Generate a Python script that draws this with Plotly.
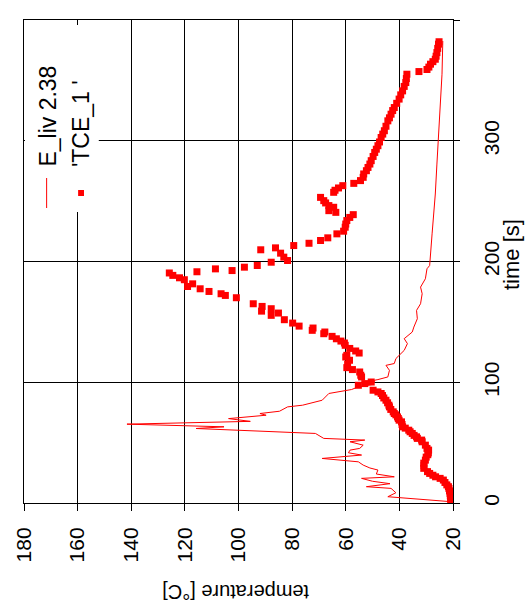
import plotly.graph_objects as go

# E_liv 2.38 : computed temperature history (thin line)
eliv_time = [0, 1, 5.2, 8.5, 12.1, 13.5, 16, 18, 20.4, 21.7, 24, 27.3, 29, 31.4, 34.1,
             36.9, 39.7, 41.6, 43.8, 45.2, 47.9, 50.7, 52.1, 53.5, 57.6, 61.7, 63.1,
             65.3, 67.6, 69.9, 72.7, 74.1, 76.0, 79.6, 81.0, 85.1, 90.7, 94.0, 95.6,
             98.3, 101.7, 102.2, 104.4, 109.9, 114.0, 115.5, 119.6, 126.4, 132.0,
             136.1, 141.6, 145.7, 152.6, 159.5, 165.0, 173.3, 178.8, 185.7, 194.0,
             196.7, 222.9, 255.9, 280.7, 302.7, 330.3, 355.1, 382.6]
eliv_temp = [20, 20.3, 44.3, 41.3, 43.1, 52.3, 43.5, 50.0, 54.1, 41.9, 48.6, 48.0, 51.0,
             53.5, 55.3, 68.8, 54.1, 59.0, 58.4, 54.8, 53.5, 58.4, 52.9, 68.2, 71.3,
             115.8, 105.4, 141.6, 95.6, 103.7, 89.7, 92.0, 84.7, 81.7, 76.1, 68.8,
             66.3, 57.8, 56.0, 49.8, 49.2, 48.0, 44.3, 43.7, 45.0, 41.9, 41.3, 38.2,
             37.0, 38.2, 35.2, 34.6, 33.3, 33.6, 32.1, 31.5, 32.1, 30.3, 29.7, 28.7,
             27.8, 26.6, 26.0, 25.4, 24.8, 24.1, 23.8]

# 'TCE_1 ' : measured thermocouple readings (square points)
tce_time = [0, 2, 4, 6, 8, 10, 12, 13.5, 15, 17, 19, 20.4, 21.7, 23, 24.5, 26, 28.7, 31,
            33, 35.5, 38, 40, 41.5, 43.8, 45.2, 47.9, 50.7, 52.1, 53.5, 54.8, 56, 57.6,
            59, 60.3, 62, 63.1, 65, 67.2, 68.6, 70, 71.3, 73, 74.1, 75.5, 77.5, 79.6,
            81, 83, 85.1, 87, 89, 90.7, 92, 93.4, 97.5, 98.9, 100.2, 104.4, 105.8,
            108.5, 110.5, 112.1, 115, 118.2, 120.9, 122.3, 124.2, 125.9, 128, 130.6,
            132.5, 134.1, 136, 138, 140.2, 141.6, 143, 144.9, 146.5, 149, 151.8, 155.4,
            157.3, 158.9, 160.9, 162.8, 165, 170, 171.9, 173.3, 175.2, 177.4, 179.3,
            181.5, 184.9, 186.5, 188.5, 190.5, 191.5, 192.5, 193.9, 195.3, 196.7,
            199.4, 200.8, 203.6, 206.9, 209.7, 211.3, 213.2, 215.1, 217.4, 219.6,
            222.9, 225.1, 228.4, 231, 233.9, 236.5, 238.8, 240.7, 242.1, 244.9, 246.3,
            248.5, 250.4, 253.1, 257.3, 259, 260.9, 262.8, 264.7, 267, 269.7, 272.5,
            275.2, 277.9, 280.7, 283.5, 287, 290.3, 293, 295.9, 299, 302.7, 305.5,
            308.3, 312, 316.5, 319, 322, 325, 327.5, 331, 334.5, 338, 341.3, 345,
            348.2, 351.5, 355.1, 357.3, 359, 361, 363.4, 365.5, 367.5, 370, 373,
            376.5, 380, 382]
tce_temp = [20.8, 20.8, 20.9, 21.0, 21.1, 21.3, 21.5, 21.7, 22.3, 23.0, 23.6, 24.8, 26.5,
            27.5, 28.7, 29.5, 30.9, 30.8, 30.9, 30.3, 30.0, 29.4, 29.2, 29.1, 29.7,
            30.3, 31.5, 31.7, 33.3, 33.6, 34.5, 35.2, 36.0, 36.5, 37.8, 38.8, 39.0,
            39.2, 40.1, 40.4, 40.7, 41.3, 41.9, 42.3, 43.2, 43.7, 43.9, 44.4, 45.0,
            45.8, 46.3, 46.8, 48.0, 49.8, 55.3, 52.9, 50.5, 54.1, 54.4, 54.8, 57.5,
            59.6, 59.3, 58.6, 60.0, 59.6, 55.0, 56.3, 58.5, 60.2, 60.5, 61.8, 63.5,
            65.1, 68.2, 67.8, 72.5, 72.2, 77.4, 79.8, 82.9, 87.8, 85.1, 91.4, 87.8,
            91.2, 94.5, 100.8, 104.9, 106.5, 111.0, 114.3, 119.0, 117.1, 120.2, 122.0,
            124.5, 125.8, 115.5, 102.4, 108.6, 97.8, 93.0, 87.8, 81.7, 83.1, 84.3,
            91.7, 86.2, 79.4, 73.7, 69.4, 66.7, 63.3, 60.8, 60.2, 60.0, 59.6, 58.5,
            57.2, 63.7, 66.3, 64.5, 66.3, 67.5, 68.2, 69.4, 64.5, 64.0, 62.7, 61.1,
            57.0, 54.5, 53.5, 53.3, 52.3, 51.7, 51.0, 50.5, 49.8, 49.2, 48.6, 48.0,
            47.4, 46.8, 46.2, 45.6, 45.0, 44.3, 43.7, 43.1, 42.5, 41.9, 41.0, 40.1,
            39.5, 38.8, 38.2, 37.6, 37.4, 37.2, 32.7, 29.7, 29.0, 28.4, 27.5, 26.6,
            26.3, 26.0, 25.7, 25.4, 25.2]

temp_ticks = [20, 40, 60, 80, 100, 120, 140, 160, 180]
time_ticks = [0, 100, 200, 300, 400]

FONT = "Liberation Sans"
RED = "#ff0000"

W, H = 526, 614
L, R, T, B = 17, 453, 20, 503   # plot-area edges in pixels


def px(x, y):
    """pixel position -> paper coordinates"""
    return (x - L) / (R - L), (B - y) / (B - T)


fig = go.Figure()

# the chart is drawn turned on its side: time runs up the right-hand axis,
# temperature decreases from left to right along the bottom axis
fig.add_trace(go.Scatter(
    x=eliv_temp, y=eliv_time, mode="lines", name="E_liv 2.38",
    line=dict(color=RED, width=1), hoverinfo="skip"))
fig.add_trace(go.Scatter(
    x=tce_temp, y=tce_time, mode="markers", name="'TCE_1 '",
    marker=dict(symbol="square", size=7, color=RED, line=dict(width=0)),
    hoverinfo="skip"))

axis_common = dict(
    showgrid=True, gridcolor="#000000", gridwidth=1,
    showline=True, linecolor="#000000", linewidth=1, mirror=True,
    zeroline=False, ticks="outside", tickcolor="#000000",
    tickangle=-90, tickfont=dict(family=FONT, size=21, color="#000000"),
)

fig.update_xaxes(range=[180, 20], tickvals=temp_ticks,
                 ticktext=[str(v) for v in temp_ticks],
                 ticklen=7, ticklabelstandoff=8, **axis_common)
fig.update_yaxes(range=[0, 400], tickvals=time_ticks,
                 ticktext=[str(v) for v in time_ticks], side="right",
                 ticklen=6, ticklabelstandoff=14, **axis_common)

shapes = []
# key box
x0, y0 = px(18, 212)
x1, y1 = px(93, 25)
shapes.append(dict(type="rect", xref="paper", yref="paper", x0=x0, y0=y0, x1=x1, y1=y1,
                   fillcolor="white", line=dict(width=0), layer="above"))
# key sample: line
lx, ly0 = px(40, 178)
_, ly1 = px(40, 208)
shapes.append(dict(type="line", xref="paper", yref="paper", x0=lx, x1=lx, y0=ly0, y1=ly1,
                   line=dict(color=RED, width=1), layer="above"))
# key sample: square
sx0, sy0 = px(72, 196)
sx1, sy1 = px(78, 190)
shapes.append(dict(type="rect", xref="paper", yref="paper", x0=sx0, x1=sx1, y0=sy0, y1=sy1,
                   fillcolor=RED, line=dict(width=0), layer="above"))

annotations = []
ax, ay = px(41, 116)
annotations.append(dict(text="E_liv 2.38", xref="paper", yref="paper", x=ax, y=ay,
                        xanchor="center", yanchor="middle", textangle=-90, showarrow=False,
                        font=dict(family=FONT, size=23, color="#000000")))
ax, ay = px(75, 124)
annotations.append(dict(text="'TCE_1 '", xref="paper", yref="paper", x=ax, y=ay,
                        xanchor="center", yanchor="middle", textangle=-90, showarrow=False,
                        font=dict(family=FONT, size=23, color="#000000")))
# axis titles
ax, ay = px(513, 255)
annotations.append(dict(text="time [s]", xref="paper", yref="paper", x=ax, y=ay,
                        xanchor="center", yanchor="middle", textangle=-90, showarrow=False,
                        font=dict(family=FONT, size=22, color="#000000")))
ax, ay = px(232, 592)
annotations.append(dict(text="temperature [°C]", xref="paper", yref="paper", x=ax, y=ay,
                        xanchor="center", yanchor="middle", textangle=180, showarrow=False,
                        font=dict(family=FONT, size=20, color="#000000")))

fig.update_layout(
    width=W, height=H,
    margin=dict(l=L, r=W - R, t=T, b=H - B, pad=0),
    paper_bgcolor="white", plot_bgcolor="white",
    showlegend=False,
    font=dict(family=FONT, color="#000000"),
    shapes=shapes, annotations=annotations,
)

fig.write_html("out.html")
